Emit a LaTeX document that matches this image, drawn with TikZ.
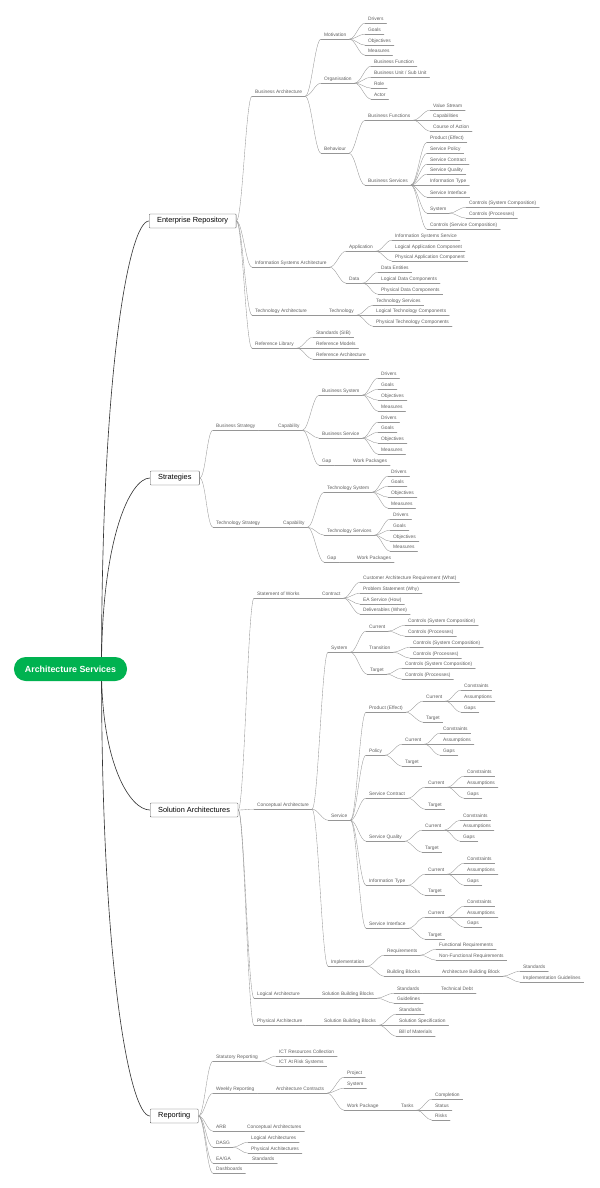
\documentclass[tikz,border=0pt]{standalone}
\usepackage{fontspec}
\setmainfont{Liberation Sans}
\usetikzlibrary{backgrounds}
\newcommand{\leaffont}{\fontsize{6.9}{8}\selectfont}
\newcommand{\boxfont}{\fontsize{10.5}{12}\selectfont}
\newcommand{\rootfont}{\fontsize{12.6}{14}\selectfont\bfseries}
\begin{document}
\begin{tikzpicture}[
    x=0.5mm, y=-0.5mm,
    line join=round,
    line cap=round,
    leaf/.style={anchor=west, font=\leaffont, text=leaftext, inner xsep=1.5mm, inner ysep=0.65mm,
        text height=1.55ex, text depth=0.45ex,
        append after command={(\tikzlastnode.south west) edge[uline] (\tikzlastnode.south east)}},
    uline/.style={draw=branchline, line width=0.5pt},
    branch/.style={draw=branchline, line width=0.5pt,
        to path={.. controls +(6,0) and +(-6,0) .. (\tikztotarget)}},
    trunk/.style={draw=trunkline, line width=0.9pt},
    box/.style={anchor=west, draw=boxline, fill=white, rounded corners=1.2pt, line width=0.6pt,
        font=\boxfont, minimum height=7mm, inner xsep=4mm, inner ysep=0pt},
    root/.style={fill=rootgreen, text=white, font=\rootfont, rounded corners=5.9mm,
        minimum height=12mm, inner xsep=5.5mm, inner ysep=0pt}
]

% Colors
\definecolor{rootgreen}{RGB}{0,178,80}
\definecolor{trunkline}{RGB}{55,55,55}
\definecolor{boxline}{RGB}{85,85,85}
\definecolor{branchline}{RGB}{150,150,150}
\definecolor{leaftext}{RGB}{95,95,95}

\useasboundingbox (0,0) rectangle (600,1188);

% child of a main box / child of a topic
\newcommand{\maintopic}[5]{%
\node[leaf] (#1) at (#3,#4) {#5};
\draw[branch] (#2.east) to (#1.south west);
}
\newcommand{\subtopic}[5]{%
\node[leaf] (#1) at (#3,#4) {#5};
\draw[branch] (#2.south east) to (#1.south west);
}

% ----------------------------------------------------
% Root and main boxes
% ----------------------------------------------------
\node[root] (root) at (70.5,669) {Architecture Services};
\coordinate (hub) at ([xshift=15.5mm]root.center);

\node[box] (er) at (149,221) {Enterprise Repository};
\node[box] (st) at (150,478) {Strategies};
\node[box] (sa) at (150,810) {Solution Architectures};
\node[box] (rp) at (150,1116) {Reporting};

\begin{scope}[on background layer]
\draw[trunk] (hub) .. controls +(0,-300) and +(-20,0) .. (er.west);
\draw[trunk] (hub) .. controls +(0,-130) and +(-20,0) .. (st.west);
\draw[trunk] (hub) .. controls +(0,95) and +(-20,0) .. (sa.west);
\draw[trunk] (hub) .. controls +(0,300) and +(-20,0) .. (rp.west);
\end{scope}

% ----------------------------------------------------
% Enterprise Repository
% ----------------------------------------------------
\maintopic{ba}{er}{252}{91}{Business Architecture}
\subtopic{mot}{ba}{321}{34}{Motivation}
\subtopic{motdr}{mot}{365}{18}{Drivers}
\subtopic{motgo}{mot}{365}{29}{Goals}
\subtopic{motob}{mot}{365}{40}{Objectives}
\subtopic{motme}{mot}{365}{50}{Measures}
\subtopic{org}{ba}{321}{78}{Organisation}
\subtopic{orgbf}{org}{371}{61}{Business Function}
\subtopic{orgbu}{org}{371}{72}{Business Unit / Sub Unit}
\subtopic{orgro}{org}{371}{83}{Role}
\subtopic{orgac}{org}{371}{94}{Actor}
\subtopic{beh}{ba}{321}{148}{Behaviour}
\subtopic{bfn}{beh}{365}{115}{Business Functions}
\subtopic{bfnvs}{bfn}{430}{105}{Value Stream}
\subtopic{bfnca}{bfn}{430}{115}{Capabilities}
\subtopic{bfnco}{bfn}{430}{126}{Course of Action}
\subtopic{bsv}{beh}{365}{180}{Business Services}
\subtopic{bsvpe}{bsv}{427}{137}{Product (Effect)}
\subtopic{bsvsp}{bsv}{427}{148}{Service Policy}
\subtopic{bsvsc}{bsv}{427}{159}{Service Contract}
\subtopic{bsvsq}{bsv}{427}{169}{Service Quality}
\subtopic{bsvit}{bsv}{427}{180}{Information Type}
\subtopic{bsvsi}{bsv}{427}{192}{Service Interface}
\subtopic{bsvsy}{bsv}{427}{208}{System}
\subtopic{sysco}{bsvsy}{466}{202}{Controls (System Composition)}
\subtopic{syspr}{bsvsy}{466}{213}{Controls (Processes)}
\subtopic{bsvcs}{bsv}{427}{224}{Controls (Service Composition)}

\maintopic{isa}{er}{252}{262}{Information Systems Architecture}
\subtopic{app}{isa}{346}{246}{Application}
\subtopic{appis}{app}{392}{235}{Information Systems Service}
\subtopic{appla}{app}{392}{246}{Logical Application Component}
\subtopic{apppa}{app}{392}{256}{Physical Application Component}
\subtopic{dat}{isa}{346}{278}{Data}
\subtopic{datde}{dat}{378}{267}{Data Entities}
\subtopic{datld}{dat}{378}{278}{Logical Data Components}
\subtopic{datpd}{dat}{378}{289}{Physical Data Components}

\maintopic{ta}{er}{252}{310}{Technology Architecture}
\subtopic{tec}{ta}{326}{310}{Technology}
\subtopic{tects}{tec}{373}{300}{Technology Services}
\subtopic{teclt}{tec}{373}{310}{Logical Technology Components}
\subtopic{tecpt}{tec}{373}{321}{Physical Technology Components}

\maintopic{rl}{er}{252}{343}{Reference Library}
\subtopic{rlsib}{rl}{313}{332}{Standards (SIB)}
\subtopic{rlrm}{rl}{313}{343}{Reference Models}
\subtopic{rlra}{rl}{313}{354}{Reference Architecture}

% ----------------------------------------------------
% Strategies
% ----------------------------------------------------
\maintopic{bs}{st}{213}{425}{Business Strategy}
\subtopic{bcap}{bs}{275}{425}{Capability}
\subtopic{bsys}{bcap}{319}{390}{Business System}
\subtopic{bsysdr}{bsys}{378}{373}{Drivers}
\subtopic{bsysgo}{bsys}{378}{384}{Goals}
\subtopic{bsysob}{bsys}{378}{395}{Objectives}
\subtopic{bsysme}{bsys}{378}{406}{Measures}
\subtopic{bser}{bcap}{319}{433}{Business Service}
\subtopic{bserdr}{bser}{378}{417}{Drivers}
\subtopic{bsergo}{bser}{378}{427}{Goals}
\subtopic{bserob}{bser}{378}{438}{Objectives}
\subtopic{bserme}{bser}{378}{449}{Measures}
\subtopic{bgap}{bcap}{319}{460}{Gap}
\subtopic{bgapwp}{bgap}{350}{460}{Work Packages}

\maintopic{ts}{st}{213}{522}{Technology Strategy}
\subtopic{tcap}{ts}{280}{522}{Capability}
\subtopic{tsys}{tcap}{324}{487}{Technology System}
\subtopic{tsysdr}{tsys}{388}{471}{Drivers}
\subtopic{tsysgo}{tsys}{388}{481}{Goals}
\subtopic{tsysob}{tsys}{388}{492}{Objectives}
\subtopic{tsysme}{tsys}{388}{503}{Measures}
\subtopic{tser}{tcap}{324}{530}{Technology Services}
\subtopic{tserdr}{tser}{390}{514}{Drivers}
\subtopic{tsergo}{tser}{390}{525}{Goals}
\subtopic{tserob}{tser}{390}{536}{Objectives}
\subtopic{tserme}{tser}{390}{546}{Measures}
\subtopic{tgap}{tcap}{324}{557}{Gap}
\subtopic{tgapwp}{tgap}{354}{557}{Work Packages}

% ----------------------------------------------------
% Solution Architectures
% ----------------------------------------------------
\maintopic{sow}{sa}{254}{593}{Statement of Works}
\subtopic{con}{sow}{319}{593}{Contract}
\subtopic{conwh}{con}{360}{577}{Customer Architecture Requirement (What)}
\subtopic{conwy}{con}{360}{588}{Problem Statement (Why)}
\subtopic{conho}{con}{360}{599}{EA Service (How)}
\subtopic{conwn}{con}{360}{609}{Deliverables (When)}

\maintopic{ca}{sa}{254}{804}{Conceptual Architecture}
\subtopic{csys}{ca}{328}{647}{System}
\subtopic{cscur}{csys}{366}{626}{Current}
\subtopic{cscursc}{cscur}{405}{620}{Controls (System Composition)}
\subtopic{cscurpr}{cscur}{405}{631}{Controls (Processes)}
\subtopic{cstra}{csys}{366}{647}{Transition}
\subtopic{cstrasc}{cstra}{410}{642}{Controls (System Composition)}
\subtopic{cstrapr}{cstra}{410}{653}{Controls (Processes)}
\subtopic{cstgt}{csys}{367}{669}{Target}
\subtopic{cstgtsc}{cstgt}{402}{663}{Controls (System Composition)}
\subtopic{cstgtpr}{cstgt}{402}{674}{Controls (Processes)}

\subtopic{csv}{ca}{328}{815}{Service}
\subtopic{pe}{csv}{366}{707}{Product (Effect)}
\subtopic{pecur}{pe}{423}{696}{Current}
\subtopic{pecurco}{pecur}{461}{685}{Constraints}
\subtopic{pecuras}{pecur}{461}{696}{Assumptions}
\subtopic{pecurga}{pecur}{461}{707}{Gaps}
\subtopic{petgt}{pe}{423}{717}{Target}
\subtopic{pol}{csv}{366}{750}{Policy}
\subtopic{polcur}{pol}{402}{739}{Current}
\subtopic{polcurco}{polcur}{440}{728}{Constraints}
\subtopic{polcuras}{polcur}{440}{739}{Assumptions}
\subtopic{polcurga}{polcur}{440}{750}{Gaps}
\subtopic{poltgt}{pol}{402}{761}{Target}
\subtopic{sc}{csv}{366}{793}{Service Contract}
\subtopic{sccur}{sc}{425}{782}{Current}
\subtopic{sccurco}{sccur}{464}{771}{Constraints}
\subtopic{sccuras}{sccur}{464}{782}{Assumptions}
\subtopic{sccurga}{sccur}{464}{793}{Gaps}
\subtopic{sctgt}{sc}{425}{804}{Target}
\subtopic{sq}{csv}{366}{836}{Service Quality}
\subtopic{sqcur}{sq}{422}{825}{Current}
\subtopic{sqcurco}{sqcur}{460}{815}{Constraints}
\subtopic{sqcuras}{sqcur}{460}{825}{Assumptions}
\subtopic{sqcurga}{sqcur}{460}{836}{Gaps}
\subtopic{sqtgt}{sq}{422}{847}{Target}
\subtopic{it}{csv}{366}{880}{Information Type}
\subtopic{itcur}{it}{425}{869}{Current}
\subtopic{itcurco}{itcur}{464}{858}{Constraints}
\subtopic{itcuras}{itcur}{464}{869}{Assumptions}
\subtopic{itcurga}{itcur}{464}{880}{Gaps}
\subtopic{ittgt}{it}{425}{890}{Target}
\subtopic{si}{csv}{366}{923}{Service Interface}
\subtopic{sicur}{si}{425}{912}{Current}
\subtopic{sicurco}{sicur}{464}{901}{Constraints}
\subtopic{sicuras}{sicur}{464}{912}{Assumptions}
\subtopic{sicurga}{sicur}{464}{922}{Gaps}
\subtopic{sitgt}{si}{425}{934}{Target}

\subtopic{imp}{ca}{328}{961}{Implementation}
\subtopic{req}{imp}{384}{950}{Requirements}
\subtopic{reqfr}{req}{436}{944}{Functional Requirements}
\subtopic{reqnf}{req}{436}{955}{Non-Functional Requirements}
\subtopic{bb}{imp}{384}{971}{Building Blocks}
\subtopic{abb}{bb}{439}{971}{Architecture Building Block}
\subtopic{abbst}{abb}{520}{966}{Standards}
\subtopic{abbig}{abb}{520}{977}{Implementation Guidelines}

\maintopic{la}{sa}{254}{993}{Logical Architecture}
\subtopic{lsbb}{la}{319}{993}{Solution Building Blocks}
\subtopic{lsbbst}{lsbb}{394}{988}{Standards}
\subtopic{lsbbtd}{lsbbst}{438}{988}{Technical Debt}
\subtopic{lsbbgl}{lsbb}{394}{998}{Guidelines}

\maintopic{pa}{sa}{254}{1020}{Physical Architecture}
\subtopic{psbb}{pa}{321}{1020}{Solution Building Blocks}
\subtopic{psbbst}{psbb}{396}{1009}{Standards}
\subtopic{psbbss}{psbb}{396}{1020}{Solution Specification}
\subtopic{psbbbm}{psbb}{396}{1031}{Bill of Materials}

% ----------------------------------------------------
% Reporting
% ----------------------------------------------------
\maintopic{str}{rp}{213}{1056}{Statutory Reporting}
\subtopic{strrc}{str}{276}{1051}{ICT Resources Collection}
\subtopic{strrs}{str}{276}{1061}{ICT At Risk Systems}
\maintopic{wr}{rp}{213}{1088}{Weekly Reporting}
\subtopic{ac}{wr}{273}{1088}{Architecture Contracts}
\subtopic{acpr}{ac}{344}{1072}{Project}
\subtopic{acsy}{ac}{344}{1083}{System}
\subtopic{wp}{ac}{344}{1105}{Work Package}
\subtopic{tsk}{wp}{398}{1105}{Tasks}
\subtopic{tskco}{tsk}{432}{1094}{Completion}
\subtopic{tskst}{tsk}{432}{1105}{Status}
\subtopic{tskri}{tsk}{432}{1115}{Risks}
\maintopic{arb}{rp}{213}{1126}{ARB}
\subtopic{arbca}{arb}{244}{1126}{Conceptual Architectures}
\maintopic{dasg}{rp}{213}{1142}{DASG}
\subtopic{dasgla}{dasg}{248}{1137}{Logical Architectures}
\subtopic{dasgpa}{dasg}{248}{1148}{Physical Architectures}
\maintopic{eaga}{rp}{213}{1158}{EA/GA}
\subtopic{eagast}{eaga}{249}{1158}{Standards}
\maintopic{dash}{rp}{213}{1168}{Dashboards}

\end{tikzpicture}
\end{document}
